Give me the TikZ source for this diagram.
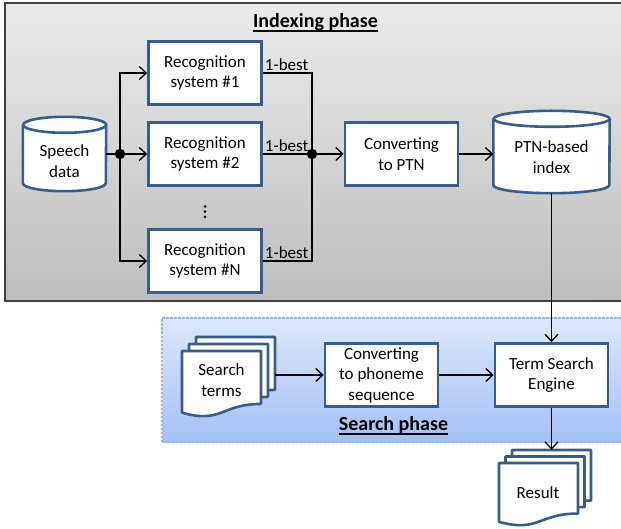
\documentclass[tikz,border=0pt]{standalone}
\usepackage{fontspec}
\setmainfont{Carlito}
\usetikzlibrary{arrows.meta,calc}

\definecolor{boxblue}{HTML}{385D8A}
\definecolor{grayTop}{HTML}{EBEBEB}
\definecolor{grayBot}{HTML}{BDBDBD}
\definecolor{grayEdge}{HTML}{404040}
\definecolor{blueTop}{HTML}{DDE8FB}
\definecolor{blueBot}{HTML}{A3C0F5}
\definecolor{blueEdge}{HTML}{94B4EA}

% one sheet of a document stack: left, top, width, height
\newcommand\docsheet[4]{%
  \draw[sheet] (#1,#2) -- (#1+#3,#2) -- (#1+#3,#2-0.802*#4)
    .. controls (#1+0.5*#3,#2-0.802*#4) and (#1+0.5*#3,#2-1.107*#4) .. (#1,#2-0.934*#4) -- cycle;}

% database cylinder around a named node: node, radius x, radius y
\newcommand\dbdrum[3]{%
  \draw[sheet] ([yshift=-#3pt]#1.north west) -- ([yshift=#3pt]#1.south west)
    arc[start angle=180,end angle=360,x radius=#2pt,y radius=#3pt]
    -- ([yshift=-#3pt]#1.north east)
    arc[start angle=0,end angle=180,x radius=#2pt,y radius=#3pt] -- cycle;
  \draw[sheet] ([yshift=-#3pt]#1.north east)
    arc[start angle=0,end angle=-180,x radius=#2pt,y radius=#3pt];}

\begin{document}
\begin{tikzpicture}[x=1pt,y=1pt,
  body/.style={font=\fontsize{17}{20.5}\selectfont},
  proc/.style={body, draw=boxblue, line width=2.6pt, fill=white,
    minimum width=113pt, minimum height=63pt, align=center, inner sep=0pt},
  sheet/.style={draw=boxblue, line width=2.6pt, fill=white, line join=round},
  shapebox/.style={inner sep=0pt, draw=none},
  txt/.style={body, align=center, inner sep=0pt},
  title/.style={font=\fontsize{20}{24}\selectfont\bfseries, inner sep=0pt, anchor=base},
  wire/.style={line width=1.3pt},
  link/.style={line width=1.3pt, -{Straight Barb[length=7pt,width=13pt]}},
  junction/.style={circle, fill=black, minimum size=10.5pt, inner sep=0pt},
  best/.style={body, anchor=south west, inner xsep=1.5pt, inner ysep=2pt},
]
\useasboundingbox (0,0) rectangle (621,528);

% phase panels
\draw[grayEdge, line width=1.8pt, top color=grayTop, bottom color=grayBot]
  (5,227) rectangle (650,525);
\draw[blueEdge, line width=1.2pt, dash pattern=on 2.5pt off 1.5pt,
  top color=blueTop, bottom color=blueBot] (162,86) rectangle (650,210);

\node[title] (idxtitle) at (315.5,500.5) {Indexing phase};
\draw[line width=1.6pt] ([yshift=-3.5pt]idxtitle.base west) -- ([yshift=-3.5pt]idxtitle.base east);
\node[title] (srchtitle) at (393.5,97.5) {Search phase};
\draw[line width=1.6pt] ([yshift=-3.5pt]srchtitle.base west) -- ([yshift=-3.5pt]srchtitle.base east);

% indexing phase
\node[shapebox, minimum width=83pt, minimum height=74pt] (speech) at (64.5,374) {};
\dbdrum{speech}{41.5}{8}
\node[txt] (speechtext) at (64.5,367) {Speech\\data};

\node[proc] (rec1) at (205,455) {Recognition\\system \#1};
\node[proc] (rec2) at (205,374) {Recognition\\system \#2};
\node[proc] (recN) at (205,267) {Recognition\\system \#N};
\fill (205,321.5) circle[radius=1.5] (205,316.3) circle[radius=1.5] (205,311.1) circle[radius=1.5];

\node[junction] (j1) at (120,374) {};
\node[junction] (j2) at (312,374) {};

\node[proc] (conv) at (401.5,374) {Converting\\to PTN};

\node[shapebox, minimum width=116pt, minimum height=82pt] (ptn) at (551.5,376) {};
\dbdrum{ptn}{58}{8}
\node[txt] (ptntext) at (551.5,371) {PTN-based\\index};

\draw[wire] (speech.east) -- (j1);
\draw[link] (j1) |- (rec1.west);
\draw[link] (j1) -- (rec2.west);
\draw[link] (j1) |- (recN.west);

\draw[wire] (rec1.east) node[best] {1-best} -| (j2);
\draw[wire] (rec2.east) node[best] {1-best} -- (j2);
\draw[wire] (recN.east) node[best] {1-best} -| (j2);
\draw[link] (j2) -- (conv.west);
\draw[link] (conv.east) -- (conv.east -| ptn.west);

% search phase
\node[shapebox, minimum width=93pt, minimum height=76pt] (terms) at (228.5,153) {};
\docsheet{196}{191}{79}{66}
\docsheet{189}{184}{79}{66}
\docsheet{182}{177}{79}{66}
\node[txt] (termstext) at (221.5,148) {Search\\terms};

\node[proc] (convph) at (381.5,153) {Converting\\to phoneme\\sequence};
\node[proc] (tse) at (551.5,153) {Term Search\\Engine};

\node[shapebox, minimum width=92pt, minimum height=72pt] (result) at (545,42) {};
\docsheet{512}{78}{79}{63}
\docsheet{505.5}{71.5}{79}{63}
\docsheet{499}{65}{79}{63}
\node[txt] (resulttext) at (538,35) {Result};

\draw[link] (ptn.south) -- (tse.north);
\draw[link] (terms.east) -- (convph.west);
\draw[link] (convph.east) -- (tse.west);
\draw[link] (tse.south) -- (tse.south |- result.north);
\end{tikzpicture}
\end{document}
